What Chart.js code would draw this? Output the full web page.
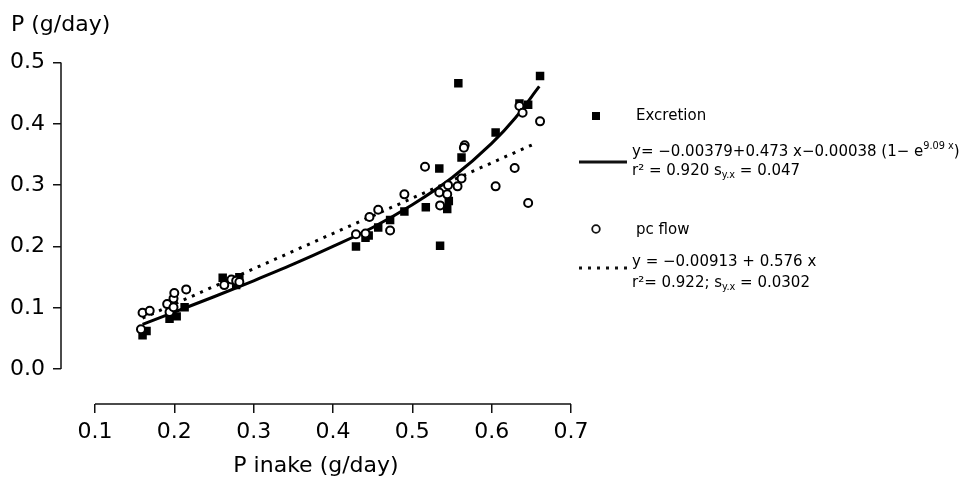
<!DOCTYPE html>
<html>
<head>
<meta charset="utf-8">
<script src="https://cdn.jsdelivr.net/npm/chart.js@4.4.1/dist/chart.umd.min.js"></script>
<style>
  html, body { margin: 0; padding: 0; background: #fff; }
  #wrap { width: 973px; height: 479px; position: relative; }
</style>
</head>
<body>
<div id="wrap"><canvas id="chart"></canvas></div>
<script>
// Data
const excretionX = [0.160, 0.165, 0.194, 0.203, 0.213, 0.261, 0.278, 0.282, 0.429, 0.441, 0.445, 0.457, 0.472,
                    0.490, 0.517, 0.534, 0.535, 0.544, 0.546, 0.558, 0.562, 0.605, 0.635, 0.646, 0.661];
const excretionY = [0.055, 0.062, 0.082, 0.086, 0.101, 0.149, 0.137, 0.150, 0.200, 0.214, 0.218, 0.231, 0.243,
                    0.257, 0.264, 0.327, 0.201, 0.261, 0.274, 0.466, 0.345, 0.386, 0.433, 0.431, 0.478];

const pcFlowX = [0.158, 0.160, 0.169, 0.191, 0.194, 0.199, 0.199, 0.200, 0.215, 0.263, 0.272, 0.278, 0.282,
                 0.429, 0.441, 0.446, 0.457, 0.472, 0.490, 0.516, 0.534, 0.535, 0.544, 0.545, 0.557, 0.562,
                 0.566, 0.565, 0.605, 0.629, 0.635, 0.639, 0.646, 0.661];
const pcFlowY = [0.065, 0.092, 0.095, 0.106, 0.093, 0.101, 0.115, 0.124, 0.130, 0.137, 0.146, 0.144, 0.142,
                 0.220, 0.221, 0.248, 0.260, 0.226, 0.285, 0.330, 0.288, 0.267, 0.285, 0.300, 0.298, 0.311,
                 0.365, 0.361, 0.298, 0.328, 0.429, 0.418, 0.271, 0.404];

// fitted curves
const excFitX = [0.16, 0.20, 0.25, 0.30, 0.35, 0.40, 0.45, 0.50, 0.55, 0.60, 0.63, 0.66];
const excFitY = [0.073, 0.093, 0.118, 0.144, 0.171, 0.200, 0.231, 0.268, 0.312, 0.368, 0.410, 0.461];
const pcFitX = [0.16, 0.655];
const pcFitY = [0.083, 0.368];

const xTicks = [0.1, 0.2, 0.3, 0.4, 0.5, 0.6, 0.7];
const yTicks = [0.0, 0.1, 0.2, 0.3, 0.4, 0.5];

const FONT = '"DejaVu Sans", sans-serif';
const pts = (xs, ys) => xs.map((x, i) => ({ x: x, y: ys[i] }));

// axis lines that stop at the first/last tick, plus titles and legend
const decor = {
  id: 'decor',
  afterDraw(chart) {
    const { ctx, chartArea, scales } = chart;
    const sx = scales.x, sy = scales.y;
    ctx.save();
    ctx.strokeStyle = '#111';
    ctx.lineWidth = 1.5;
    ctx.beginPath();
    ctx.moveTo(sx.getPixelForValue(xTicks[0]), chartArea.bottom);
    ctx.lineTo(sx.getPixelForValue(xTicks[xTicks.length - 1]), chartArea.bottom);
    ctx.moveTo(chartArea.left, sy.getPixelForValue(yTicks[0]));
    ctx.lineTo(chartArea.left, sy.getPixelForValue(yTicks[yTicks.length - 1]));
    ctx.stroke();

    ctx.fillStyle = '#000';
    ctx.textBaseline = 'middle';
    ctx.textAlign = 'left';
    ctx.font = '22px ' + FONT;
    ctx.fillText('P (g/day)', 11, 25);

    // legend
    const L = 15;
    ctx.fillRect(592, 112, 8, 8);
    ctx.font = L + 'px ' + FONT;
    ctx.fillText('Excretion', 636, 116);
    ctx.lineWidth = 3;
    ctx.beginPath();
    ctx.moveTo(579, 162);
    ctx.lineTo(627, 162);
    ctx.stroke();
    rich(ctx, 632, 152, [['y= \u22120.00379+0.473 x\u22120.00038 (1\u2212 e'], ['9.09 x', 'sup'], [')']], L);
    rich(ctx, 632, 171, [['r\u00b2 = 0.920 s'], ['y.x', 'sub'], [' = 0.047']], L);

    ctx.lineWidth = 1.8;
    ctx.beginPath();
    ctx.arc(596, 229, 3.8, 0, Math.PI * 2);
    ctx.stroke();
    ctx.font = L + 'px ' + FONT;
    ctx.fillText('pc flow', 636, 230);
    ctx.lineWidth = 3;
    ctx.setLineDash([3, 6]);
    ctx.beginPath();
    ctx.moveTo(579, 268);
    ctx.lineTo(627, 268);
    ctx.stroke();
    ctx.setLineDash([]);
    rich(ctx, 632, 262, [['y = \u22120.00913 + 0.576 x']], L);
    rich(ctx, 632, 283, [['r\u00b2= 0.922; s'], ['y.x', 'sub'], [' = 0.0302']], L);
    ctx.restore();
  }
};

function rich(ctx, x, y, parts, size) {
  parts.forEach(p => {
    const mode = p[1];
    const s = mode ? size * 0.65 : size;
    const dy = mode === 'sup' ? -size * 0.4 : mode === 'sub' ? size * 0.3 : 0;
    ctx.font = s + 'px ' + FONT;
    ctx.fillText(p[0], x, y + dy);
    x += ctx.measureText(p[0]).width;
  });
}

new Chart(document.getElementById('chart'), {
  type: 'scatter',
  data: {
    datasets: [
      {
        label: 'pc flow',
        data: pts(pcFlowX, pcFlowY),
        pointStyle: 'circle',
        pointRadius: 4,
        borderWidth: 2,
        borderColor: '#000',
        backgroundColor: '#fff',
        order: 0
      },
      {
        label: 'Excretion',
        data: pts(excretionX, excretionY),
        pointStyle: 'rect',
        pointRadius: 6,
        borderWidth: 0,
        borderColor: '#000',
        backgroundColor: '#000',
        order: 1
      },
      {
        label: 'Excretion fit',
        data: pts(excFitX, excFitY),
        showLine: true,
        cubicInterpolationMode: 'monotone',
        borderColor: '#000',
        borderWidth: 3,
        pointRadius: 0,
        order: 2
      },
      {
        label: 'pc flow fit',
        data: pts(pcFitX, pcFitY),
        showLine: true,
        borderColor: '#000',
        borderWidth: 3,
        borderDash: [3, 6],
        pointRadius: 0,
        order: 3
      }
    ]
  },
  options: {
    responsive: true,
    maintainAspectRatio: false,
    animation: false,
    layout: { padding: { left: 0, top: 62.5, right: 402, bottom: 0 } },
    plugins: { legend: { display: false }, tooltip: { enabled: false } },
    scales: {
      x: {
        type: 'linear',
        min: 0.0572,
        max: 0.7,
        afterBuildTicks: s => { s.ticks = xTicks.map(v => ({ value: v })); },
        afterFit: s => { s.height = 75; },
        border: { display: false },
        grid: { display: true, drawOnChartArea: false, drawTicks: true, tickLength: 9, color: '#111', lineWidth: 1.5 },
        ticks: { color: '#000', font: { family: FONT, size: 22 }, padding: 6, maxRotation: 0,
                 callback: v => v.toFixed(1) },
        title: { display: true, text: 'P inake (g/day)', color: '#000', font: { family: FONT, size: 22 },
                 padding: { top: 2, bottom: 0 } }
      },
      y: {
        type: 'linear',
        min: -0.0569,
        max: 0.5,
        afterBuildTicks: s => { s.ticks = yTicks.map(v => ({ value: v })); },
        afterFit: s => { s.width = 61; },
        border: { display: false },
        grid: { display: true, drawOnChartArea: false, drawTicks: true, tickLength: 8, color: '#111', lineWidth: 1.5 },
        ticks: { color: '#000', font: { family: FONT, size: 22 }, padding: 8,
                 callback: v => v.toFixed(1) }
      }
    }
  },
  plugins: [decor]
});
</script>
</body>
</html>
